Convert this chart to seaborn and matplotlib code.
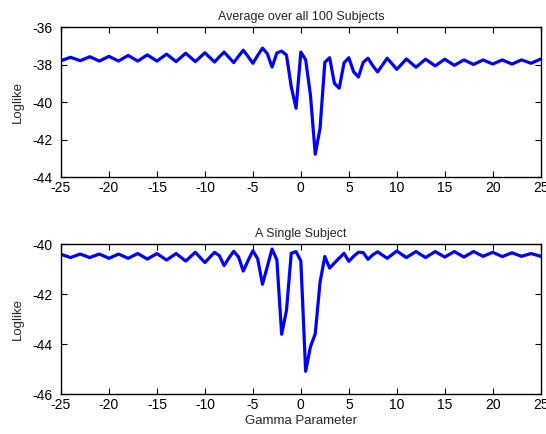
import numpy as np
import pandas as pd
import matplotlib
matplotlib.use("Agg")
import matplotlib.pyplot as plt
import seaborn as sns

# gamma grid: whole steps in the tails, half steps around the centre
gamma = list(range(-25, -9)) + [-9 + 0.5 * i for i in range(35)] + list(range(9, 26))

avg_loglike = [
    # -25 .. -10
    -37.78, -37.60, -37.78, -37.57, -37.80, -37.55, -37.80, -37.50,
    -37.80, -37.47, -37.80, -37.43, -37.83, -37.38, -37.83, -37.36,
    # -9 .. 8 (step 0.5)
    -37.85, -37.58, -37.32, -37.60, -37.88, -37.55, -37.22, -37.56,
    -37.92, -37.50, -37.11, -37.40, -38.12, -37.37, -37.27, -37.48,
    -39.17, -40.32, -37.32, -37.73, -39.61, -42.77, -41.39, -37.87,
    -37.62, -38.99, -39.25, -37.90, -37.62, -38.37, -38.65, -37.87,
    -37.65, -38.05, -38.38,
    # 9 .. 25
    -37.65, -38.24, -37.69, -38.13, -37.70, -38.06, -37.70, -38.03,
    -37.74, -37.98, -37.74, -37.96, -37.74, -37.96, -37.74, -37.92,
    -37.69,
]

single_loglike = [
    # -25 .. -10
    -40.40, -40.53, -40.39, -40.53, -40.39, -40.56, -40.39, -40.56,
    -40.37, -40.59, -40.37, -40.63, -40.37, -40.67, -40.32, -40.73,
    # -9 .. 8 (step 0.5)
    -40.32, -40.45, -40.85, -40.55, -40.28, -40.50, -41.07, -40.65,
    -40.26, -40.58, -41.60, -40.90, -40.19, -40.62, -43.60, -42.65,
    -40.36, -40.29, -40.67, -45.08, -44.10, -43.58, -41.52, -40.49,
    -40.95, -40.75, -40.55, -40.36, -40.68, -40.48, -40.32, -40.33,
    -40.60, -40.42, -40.30,
    # 9 .. 25
    -40.56, -40.27, -40.53, -40.29, -40.53, -40.29, -40.51, -40.29,
    -40.51, -40.29, -40.48, -40.32, -40.49, -40.34, -40.48, -40.37,
    -40.48,
]

titles = ["Average over all 100 Subjects", "A Single Subject"]
ylims = [(-44, -36), (-46, -40)]
xticks = list(range(-25, 30, 5))

sns.set_style("ticks")
plt.rcParams["font.family"] = ["Liberation Sans", "DejaVu Sans"]
plt.rcParams["axes.unicode_minus"] = False

fig = plt.figure(figsize=(5.46, 4.34), dpi=100)
ax_top = fig.add_axes([0.1117, 0.5915, 0.8786, 0.3456])
ax_bot = fig.add_axes([0.1117, 0.0915, 0.8786, 0.3456])

df = pd.DataFrame({"gamma": gamma, "avg": avg_loglike, "single": single_loglike})

for ax, col, title, ylim in zip([ax_top, ax_bot], ["avg", "single"], titles, ylims):
    sns.lineplot(data=df, x="gamma", y=col, ax=ax, color="#0000ff", linewidth=2.3)
    ax.set_xlim(-25, 25)
    ax.set_ylim(*ylim)
    ax.set_xticks(xticks)
    ax.set_yticks(np.arange(ylim[0], ylim[1] + 1, 2))
    ax.set_title(title, fontsize=9, pad=5)
    ax.set_ylabel("Loglike", fontsize=9.5, labelpad=6)
    ax.set_xlabel("")
    ax.tick_params(direction="in", top=True, right=True, length=4,
                   width=0.8, labelsize=10, colors="black")
    ax.tick_params(axis="x", pad=3)
    ax.tick_params(axis="y", pad=6)
    for s in ax.spines.values():
        s.set_visible(True)
        s.set_color("black")
        s.set_linewidth(1.0)

ax_bot.set_xlabel("Gamma Parameter", fontsize=9.5, labelpad=2)

fig.savefig("out.png", dpi=100)
